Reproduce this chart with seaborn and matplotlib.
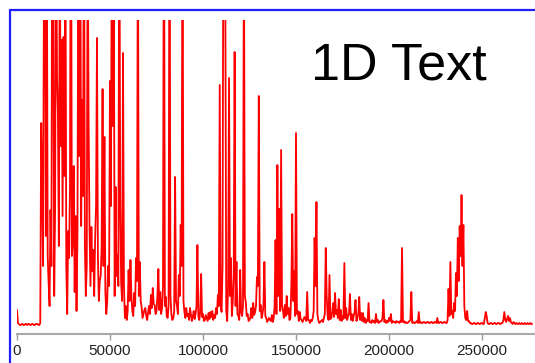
import numpy as np
import pandas as pd
import matplotlib
matplotlib.use("Agg")
import matplotlib.pyplot as plt
from matplotlib.lines import Line2D
import seaborn as sns

# Signal intensity, one sample every 500 positions, split by region
intensity_0_50k = [
    16, 3, 2, 1, 1, 2, 2, 1, 1, 2,
    2, 1, 2, 2, 1, 1, 2, 2, 1, 1,
    2, 2, 2, 1, 1, 3, 203, 150, 60, 350,
    480, 90, 420, 70, 43, 20, 116, 60, 500, 330,
    30, 120, 460, 250, 213, 80, 390, 180, 286, 110,
    289, 150, 440, 60, 12, 95, 68, 140, 520, 70,
    83, 160, 34, 110, 15, 90, 400, 170, 450, 100,
    226, 130, 470, 80, 30, 60, 410, 200, 96, 40,
    99, 55, 76, 30, 86, 120, 288, 70, 25, 45,
    50, 80, 237, 60, 189, 35, 12, 25, 60, 40]
intensity_50k_100k = [
    245, 120, 430, 200, 380, 30, 139, 50, 71, 40,
    455, 120, 43, 25, 273, 40, 8, 20, 6, 15,
    56, 25, 66, 30, 15, 10, 33, 20, 68, 45,
    415, 30, 64, 25, 19, 8, 12, 16, 18, 10,
    6, 14, 20, 12, 31, 18, 38, 22, 21, 12,
    15, 30, 57, 16, 34, 12, 18, 40, 490, 20,
    29, 10, 8, 20, 470, 30, 12, 6, 8, 14,
    149, 25, 20, 12, 51, 30, 101, 60, 445, 25,
    14, 8, 18, 10, 12, 6, 18, 12, 5, 9,
    15, 7, 12, 20, 81, 10, 6, 14, 52, 9]
intensity_100k_150k = [
    12, 5, 6, 11, 8, 5, 13, 7, 14, 9,
    15, 6, 11, 8, 18, 12, 31, 20, 241, 20,
    14, 60, 440, 380, 330, 15, 5, 40, 248, 30,
    68, 10, 24, 50, 274, 20, 64, 12, 10, 6,
    56, 14, 10, 20, 400, 30, 24, 10, 12, 5,
    6, 9, 18, 8, 23, 11, 14, 20, 49, 40,
    230, 15, 21, 8, 12, 20, 64, 10, 8, 4,
    6, 8, 6, 5, 11, 4, 8, 20, 86, 12,
    161, 30, 117, 15, 176, 20, 15, 8, 21, 10,
    30, 12, 18, 6, 8, 40, 112, 25, 55, 10]
intensity_150k_200k = [
    193, 12, 15, 5, 14, 7, 6, 4, 6, 9,
    8, 5, 34, 6, 6, 3, 6, 5, 8, 15,
    88, 40, 124, 12, 6, 3, 4, 5, 6, 4,
    8, 12, 78, 30, 10, 6, 51, 7, 8, 14,
    23, 9, 33, 12, 16, 8, 27, 6, 16, 5,
    10, 7, 63, 8, 18, 6, 10, 12, 32, 6,
    12, 5, 10, 14, 26, 5, 8, 12, 29, 6,
    13, 5, 13, 4, 8, 3, 6, 5, 23, 4,
    4, 3, 6, 4, 5, 3, 12, 4, 6, 3,
    4, 5, 5, 8, 26, 4, 6, 3, 5, 4]
intensity_200k_end = [
    8, 5, 12, 3, 5, 4, 4, 3, 5, 4,
    4, 3, 5, 4, 78, 4, 5, 3, 4, 3,
    3, 4, 5, 6, 34, 3, 4, 3, 3, 4,
    5, 3, 14, 3, 4, 3, 3, 4, 4, 3,
    3, 4, 4, 3, 3, 4, 4, 3, 3, 4,
    4, 3, 8, 3, 3, 4, 4, 3, 3, 4,
    4, 3, 3, 6, 37, 10, 64, 12, 15, 8,
    23, 15, 53, 30, 88, 45, 100, 70, 131, 60,
    101, 20, 8, 6, 15, 5, 5, 3, 3, 2,
    2, 3, 3, 2, 2, 3, 3, 2, 2, 3,
    3, 2, 2, 8, 14, 10, 3, 2, 2, 3,
    3, 2, 2, 3, 3, 2, 2, 3, 3, 2,
    2, 3, 3, 6, 14, 6, 4, 7, 10, 5,
    8, 4, 3, 2, 4, 3, 2, 3, 2, 2,
    3, 2, 2, 3, 2, 2, 3, 2, 2, 3,
    2, 2, 3, 2, 2]

sample_step = 500
x_ticks = [0, 50000, 100000, 150000, 200000, 250000]
tick_labels = ["0", "50000", "100000", "150000", "200000", "250000"]
title_text = "1D Text"

intensity = (intensity_0_50k + intensity_50k_100k + intensity_100k_150k
             + intensity_150k_200k + intensity_200k_end)
df = pd.DataFrame({"position": np.arange(len(intensity)) * sample_step,
                   "intensity": intensity})

sns.set_style("white")
plt.rcParams["font.family"] = ["Liberation Sans", "DejaVu Sans"]

W, H = 535, 363
fig = plt.figure(figsize=(W / 100, H / 100), dpi=100)
ax = fig.add_axes([17 / W, 29 / H, (W - 17) / W, (334 - 20) / H])

sns.lineplot(data=df, x="position", y="intensity", ax=ax, color="#ff0000",
             linewidth=1.3, estimator=None, sort=False)

ax.set_xlim(0, (W - 17) / 93 * 50000)
ax.set_ylim(-8, 306)
ax.set_xlabel("")
ax.set_ylabel("")
ax.set_yticks([])
ax.set_xticks(x_ticks)
ax.set_xticklabels(tick_labels)
ax.tick_params(axis="x", direction="out", length=4, width=1, color="#999999",
               labelsize=11, labelcolor="#222222", pad=3, bottom=True)
for side in ["top", "left", "right"]:
    ax.spines[side].set_visible(False)
ax.spines["bottom"].set_color("#aaaaaa")
ax.spines["bottom"].set_linewidth(1.5)
ax.patch.set_alpha(0)

# Title text inside the plot area
fig.text(487 / W, 1 - 80 / H, title_text, ha="right", va="baseline",
         fontsize=37.5, color="black")

# Blue frame along the top and left edges
frame_color = "#2020ff"
fig.add_artist(Line2D([9.5 / W, 1.0], [1 - 9.5 / H, 1 - 9.5 / H],
                      transform=fig.transFigure, color=frame_color, linewidth=1.6))
fig.add_artist(Line2D([9.5 / W, 9.5 / W], [1 - 9.5 / H, 0.0],
                      transform=fig.transFigure, color=frame_color, linewidth=1.6))

fig.savefig("out.png", dpi=100, facecolor="white")
